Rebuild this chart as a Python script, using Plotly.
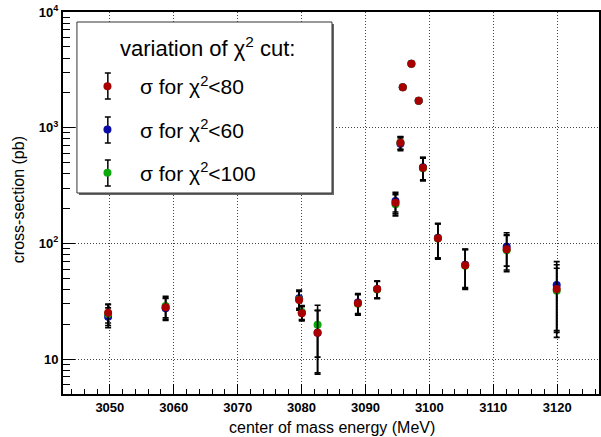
import plotly.graph_objects as go

# ---- data ----
energy = [3049.73, 3058.73, 3079.62, 3080.04, 3082.51, 3088.82, 3091.83, 3094.70,
          3095.48, 3095.84, 3097.19, 3098.33, 3099.00, 3101.34, 3105.61, 3112.10, 3119.93]

sigma80 = [25.2, 28.0, 32.4, 24.9, 16.9, 30.3, 40.4, 225, 741, 2234, 3574, 1710,
           451, 110.7, 64.7, 88.9, 40.4]
err80 = [4.7, 6.0, 6.0, 3.5, 9.5, 6.0, 6.8, 45, 93, 60, 80, 50, 100, 37, 24, 30, 25]

sigma60 = [23.2, 27.5, 33.5, 25.2, 16.9, 30.8, 40.4, 232, 725, 2234, 3574, 1710,
           455, 112, 65.5, 93.6, 43.6]
err60 = [4.5, 5.9, 6.0, 3.5, 9.3, 6.0, 6.8, 45, 92, 60, 80, 50, 100, 37, 24, 30, 26]

sigma100 = [24.5, 28.8, 32.8, 25.5, 19.8, 30.0, 40.0, 218, 745, 2234, 3574, 1710,
            446, 110, 64.0, 87.0, 39.0]
err100 = [5.0, 6.1, 6.0, 3.5, 9.4, 6.0, 6.8, 45, 93, 60, 80, 50, 100, 37, 24, 30, 22]

y_tickvals = [10, 100, 1000, 10000]
y_ticktext = ["<b>10</b>", "<b>10<sup>2</sup></b>", "<b>10<sup>3</sup></b>", "<b>10<sup>4</sup></b>"]

legend_title = "variation of χ<sup>2</sup> cut:"
names = {
    "80": "σ for χ<sup>2</sup>&lt;80",
    "60": "σ for χ<sup>2</sup>&lt;60",
    "100": "σ for χ<sup>2</sup>&lt;100",
}

W, H = 601, 437
ML, MR, MT, MB = 63, 0, 12, 43
PW, PH = W - ML - MR, H - MT - MB


def px_x(p):
    return (p - ML) / PW


def px_y(p):
    return 1 - (p - MT) / PH


FONT = "Liberation Sans, Arial, Helvetica, sans-serif"

fig = go.Figure()


def add_series(y, e, color, name, rank):
    fig.add_trace(go.Scatter(
        x=energy, y=y, mode="markers", name=name, legendrank=rank,
        legendgroup=name,
        marker=dict(color=color, size=8, line=dict(width=0)),
        error_y=dict(type="data", array=e, visible=True, color="black",
                     thickness=1.6, width=3),
    ))


add_series(sigma60, err60, "#0b0ba6", names["60"], 2)
add_series(sigma100, err100, "#0ca80c", names["100"], 3)
add_series(sigma80, err80, "#a80000", names["80"], 1)

minor_y = []
for dec in [1, 10, 100, 1000]:
    for k in range(2, 10):
        minor_y.append(k * dec)
minor_y = [v for v in minor_y if v >= 5]

# legend frame (with ROOT-like shadow), drawn as paper shapes
box_l, box_t, box_r, box_b = 77, 22, 333, 193
shapes = [
    dict(type="rect", xref="paper", yref="paper", layer="above",
         x0=px_x(box_l + 2), x1=px_x(box_r + 2), y0=px_y(box_b + 2), y1=px_y(box_t + 2),
         fillcolor="#666666", line=dict(width=0)),
    dict(type="rect", xref="paper", yref="paper", layer="above",
         x0=px_x(box_l), x1=px_x(box_r), y0=px_y(box_b), y1=px_y(box_t),
         fillcolor="white", line=dict(color="#333333", width=1)),
]
# error-bar glyphs next to legend markers
for cy in [86, 130, 173]:
    shapes.append(dict(type="line", xref="paper", yref="paper", layer="above",
                       x0=px_x(108), x1=px_x(108), y0=px_y(cy - 13), y1=px_y(cy + 13),
                       line=dict(color="black", width=1.5)))
    for dy in (-13, 13):
        shapes.append(dict(type="line", xref="paper", yref="paper", layer="above",
                           x0=px_x(105), x1=px_x(111), y0=px_y(cy + dy), y1=px_y(cy + dy),
                           line=dict(color="black", width=1.5)))

fig.update_layout(
    width=W, height=H,
    margin=dict(l=ML, r=MR, t=MT, b=MB),
    paper_bgcolor="white", plot_bgcolor="white",
    font=dict(family=FONT, color="black"),
    showlegend=True,
    legend=dict(
        x=px_x(75), y=px_y(66), xanchor="left", yanchor="top",
        bgcolor="rgba(0,0,0,0)", borderwidth=0,
        font=dict(family=FONT, size=21, color="black"),
        tracegroupgap=13, itemwidth=55,
    ),
    shapes=shapes,
    xaxis=dict(
        range=[3042.67, 3126.55], tickmode="linear", tick0=3050, dtick=10,
        ticks="inside", ticklen=10, tickwidth=1, tickcolor="black",
        minor=dict(ticks="inside", dtick=2, tick0=3042, ticklen=5, tickcolor="black", tickwidth=1),
        showline=True, linecolor="black", linewidth=2, mirror=True,
        showgrid=True, gridcolor="#444444", griddash="1px,2px", gridwidth=1,
        zeroline=False,
        tickfont=dict(family=FONT, size=13, color="black", weight="bold"),
    ),
    yaxis=dict(
        type="log", range=[0.698, 4],
        tickmode="array", tickvals=y_tickvals, ticktext=y_ticktext,
        ticks="inside", ticklen=12, tickwidth=1, tickcolor="black",
        minor=dict(ticks="inside", tickvals=minor_y, ticklen=7, tickcolor="black", tickwidth=1),
        showline=True, linecolor="black", linewidth=2, mirror=True,
        showgrid=True, gridcolor="#444444", griddash="1px,2px", gridwidth=1,
        zeroline=False,
        tickfont=dict(family=FONT, size=13, color="black"),
    ),
    annotations=[
        dict(text=legend_title, xref="paper", yref="paper",
             x=px_x(208), y=px_y(47), showarrow=False,
             font=dict(family=FONT, size=22, color="black"),
             xanchor="center", yanchor="middle"),
        dict(text="center of mass energy (MeV)", xref="paper", yref="paper",
             x=px_x(333), y=px_y(427), showarrow=False,
             font=dict(family=FONT, size=16, color="black"),
             xanchor="center", yanchor="middle"),
        dict(text="cross-section (pb)", xref="paper", yref="paper",
             x=px_x(18), y=px_y(200), showarrow=False, textangle=-90,
             font=dict(family=FONT, size=16, color="black"),
             xanchor="center", yanchor="middle"),
    ],
)

fig.write_html("out.html")
